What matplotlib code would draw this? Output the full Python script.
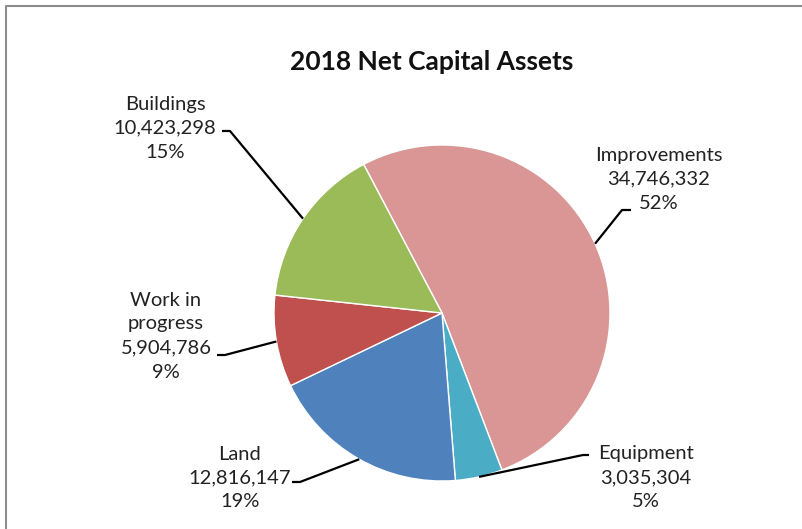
import matplotlib.pyplot as plt
import numpy as np

categories = ['Improvements', 'Equipment', 'Land', 'Work in\nprogress', 'Buildings']
values = [34746332, 3035304, 12816147, 5904786, 10423298]
pct_labels = ['52%', '5%', '19%', '9%', '15%']
colors = ['#D99694', '#4BACC6', '#4F81BD', '#C0504D', '#9BBB59']

W, H = 803, 529
fig = plt.figure(figsize=(W / 100, H / 100), dpi=100)
ax = fig.add_axes([0, 0, 1, 1])

# pixel coords measured from the top
def py(y):
    return H - y

cx, cy, r = 442, py(313), 168
wedges, _ = ax.pie(values, colors=colors, startangle=117.8, counterclock=False,
                   center=(cx, cy), radius=r, frame=True,
                   wedgeprops=dict(edgecolor='white', linewidth=1))
ax.set_xlim(0, W)
ax.set_ylim(0, H)
ax.set_aspect('equal')
ax.axis('off')

# chart frame
ax.plot([6, 6, W + 5], [py(H + 5), py(6), py(6)], color='#8c8c8c', lw=1.5)

ax.text(432, py(62), '2018 Net Capital Assets', ha='center', va='center',
        fontsize=19, fontweight='bold', family='Lato', color='#111111')

# label centres and elbow points of the leader lines
text_pos = [(659, 179), (646, 478), (240, 478), (166, 336), (165, 128)]
elbows = [[(622, 210), (631, 210)],
          [(583, 455), (589, 455)],
          [(300, 482), (292, 482)],
          [(225, 355), (217, 355)],
          [(230, 131), (222, 131)]]
anchor_ang = [None, None, 240.5, None, None]

for i, w in enumerate(wedges):
    ang = anchor_ang[i] if anchor_ang[i] is not None else (w.theta1 + w.theta2) / 2
    ax0 = cx + r * np.cos(np.radians(ang))
    ay0 = cy + r * np.sin(np.radians(ang))
    xs = [ax0] + [p[0] for p in elbows[i]]
    ys = [ay0] + [py(p[1]) for p in elbows[i]]
    ax.plot(xs, ys, color='black', lw=1.6, solid_capstyle='butt')
    label = f'{categories[i]}\n{values[i]:,}\n{pct_labels[i]}'
    ax.text(text_pos[i][0], py(text_pos[i][1]), label, ha='center', va='center',
            fontsize=14.5, family='Lato', color='#222222', linespacing=1.5)

fig.savefig('out.png', dpi=100, facecolor='white')
